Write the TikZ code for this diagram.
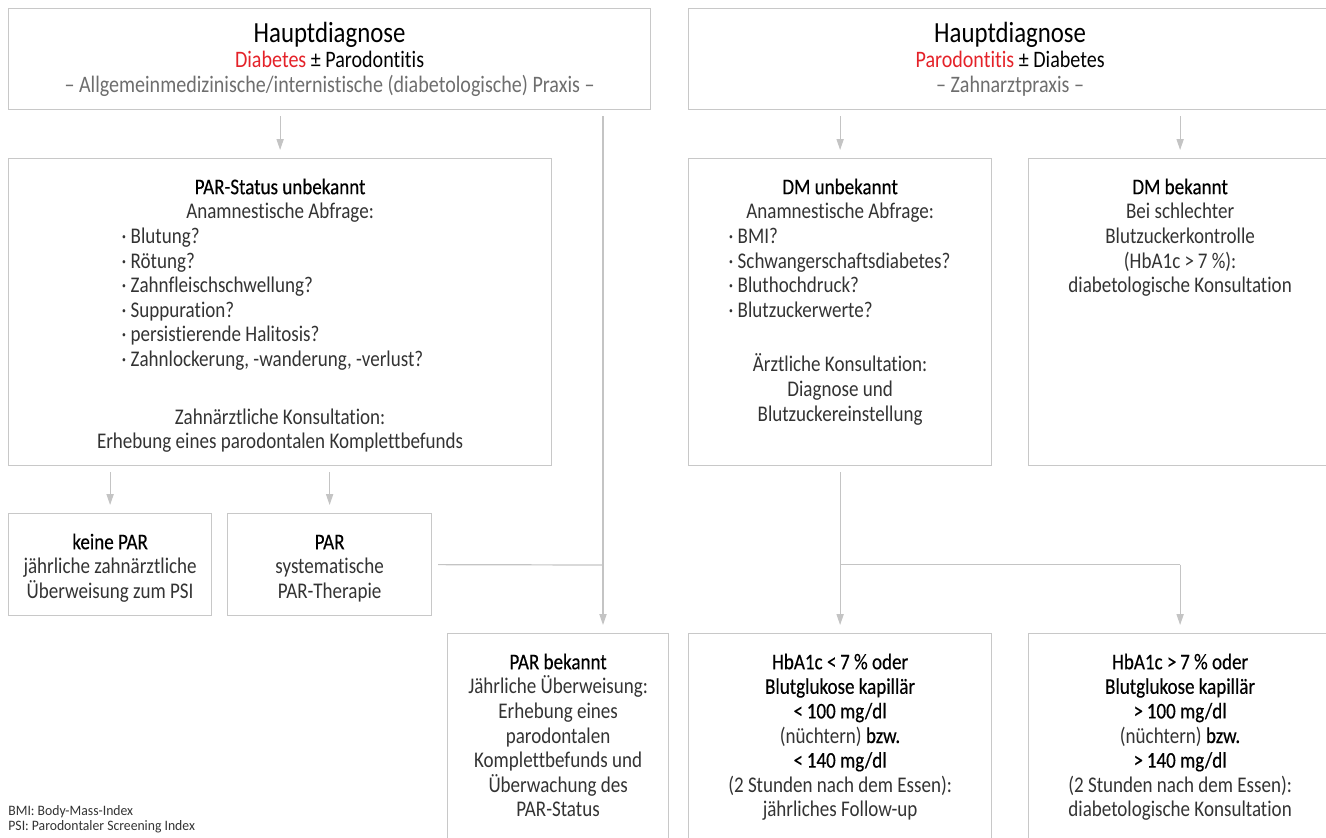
\documentclass[tikz,border=0pt]{standalone}
\usepackage{fontspec}
\setmainfont{Carlito}[FakeStretch=0.85,Ligatures=NoCommon,Contextuals=NoAlternate]
\newfontfamily\medfont{Carlito}[FakeStretch=0.85,FakeBold=0.35,Ligatures=NoCommon,Contextuals=NoAlternate]
\newfontfamily\fnfont{Carlito}[FakeStretch=0.95]
\usetikzlibrary{arrows.meta}
\usetikzlibrary{positioning}
\definecolor{boxgray}{HTML}{C8C8C8}
\definecolor{linegray}{HTML}{C4C4C4}
\definecolor{txtgray}{HTML}{333333}
\definecolor{subgray}{HTML}{6E6E6E}
\definecolor{diagred}{HTML}{E42229}
\newcommand{\bx}[3]{\parbox[t][#2][t]{#1}{\centering\fontsize{11.2}{12.3}\selectfont #3}}
\newcommand{\hl}[1]{{\medfont\color{black}#1}}
\newcommand{\lpunkt}[2]{\makebox[\linewidth][l]{\hspace*{#1}·\ #2}}
\newcommand{\fst}{\rule{0pt}{17.8pt}}
\newcommand{\titel}{\rule{0pt}{17pt}{\fontsize{14.6}{15}\selectfont\color{black}Hauptdiagnose}}
\newcommand{\unter}{\fontsize{11.8}{12.3}\selectfont}
\begin{document}
\begin{tikzpicture}[x=0.5pt,y=-0.5pt,
  box/.style={draw=boxgray,line width=0.6pt,inner sep=0pt,anchor=north west,text=txtgray},
  fn/.style={anchor=base west,inner sep=0pt,text=txtgray,font=\fnfont\fontsize{7.2}{8}\selectfont},
  conn/.style={draw=linegray,line width=0.6pt},
  arr/.style={conn,-{Triangle[length=5.5pt,width=3.6pt]},shorten <=3pt,shorten >=4pt}]
\useasboundingbox (0,0) rectangle (1326,837);
\clip (0,0) rectangle (1326,837);

\node[box] (diaA) at (8,8) {\bx{321pt}{50.5pt}{\titel\\
  {\unter{\color{diagred}Diabetes} {\color{black}± Parodontitis}}\\[0.5pt]
  {\unter\color{subgray}– Allgemeinmedizinische/internistische (diabetologische) Praxis –}}};
\node[box] (diaB) at (688,8) {\bx{321.5pt}{50.5pt}{\titel\\
  {\unter{\color{diagred}Parodontitis} {\color{black}± Diabetes}}\\[0.5pt]
  {\unter\color{subgray}– Zahnarztpraxis –}}};

\node[box] (parunb) at (8,158) {\bx{271.5pt}{153.5pt}{\fst\hl{PAR-Status unbekannt}\\
  Anamnestische Abfrage:\\
  \lpunkt{56.5pt}{Blutung?}\\
  \lpunkt{56.5pt}{Rötung?}\\
  \lpunkt{56.5pt}{Zahnfleischschwellung?}\\
  \lpunkt{56.5pt}{Suppuration?}\\
  \lpunkt{56.5pt}{persistierende Halitosis?}\\
  \lpunkt{56.5pt}{Zahnlockerung, -wanderung, -verlust?}\\[16.5pt]
  Zahnärztliche Konsultation:\\
  Erhebung eines parodontalen Komplettbefunds}};
\node[box] (dmunb) at (688,158) {\bx{151.5pt}{153.5pt}{\fst\hl{DM unbekannt}\\
  Anamnestische Abfrage:\\
  \lpunkt{20pt}{BMI?}\\
  \lpunkt{20pt}{Schwangerschaftsdiabetes?}\\
  \lpunkt{20pt}{Bluthochdruck?}\\
  \lpunkt{20pt}{Blutzuckerwerte?}\\[15pt]
  Ärztliche Konsultation:\\
  Diagnose und\\
  Blutzuckereinstellung}};
\node[box] (dmbek) at (1028,158) {\bx{151.5pt}{153.5pt}{\fst\hl{DM bekannt}\\
  Bei schlechter\\
  Blutzuckerkontrolle\\
  (HbA1c >\,7 \%):\\
  diabetologische Konsultation}};

\node[box] (keine) at (8,513) {\bx{101.5pt}{51pt}{\fst\hl{keine PAR}\\
  jährliche zahnärztliche\\
  Überweisung zum PSI}};
\node[box] (par) at (227,513) {\bx{102pt}{51pt}{\fst\hl{PAR}\\
  systematische\\
  PAR-Therapie}};

\node[box] (parbek) at (447,633) {\bx{110.5pt}{115pt}{\fst\hl{PAR bekannt}\\
  Jährliche Überweisung:\\
  Erhebung eines\\
  parodontalen\\
  Komplettbefunds und\\
  Überwachung des\\
  PAR-Status}};
\node[box] (hbalo) at (688,633) {\bx{151.5pt}{115pt}{\fst\hl{HbA1c <\,7 \% oder}\\
  \hl{Blutglukose kapillär}\\
  \hl{<\,100 mg/dl}\\
  (nüchtern) \hl{bzw.}\\
  \hl{<\,140 mg/dl}\\
  (2 Stunden nach dem Essen):\\
  jährliches Follow-up}};
\node[box] (hbahi) at (1028,633) {\bx{151.5pt}{115pt}{\fst\hl{HbA1c >\,7 \% oder}\\
  \hl{Blutglukose kapillär}\\
  \hl{>\,100 mg/dl}\\
  (nüchtern) \hl{bzw.}\\
  \hl{>\,140 mg/dl}\\
  (2 Stunden nach dem Essen):\\
  diabetologische Konsultation}};

\node[fn] (fnA) at (8,815) {BMI: Body-Mass-Index};
\node[fn] (fnB) at (8,830) {PSI: Parodontaler Screening Index};

\coordinate (parline) at (603,565);
\coordinate (split) at (dmunb.south |- par.east);

\draw[arr] (diaA.south -| parunb.north) -- (parunb.north);
\draw[arr] (parunb.south -| keine.north) -- (keine.north);
\draw[arr] (parunb.south -| par.north) -- (par.north);
\draw[arr] (diaA.south -| parline) -- (parbek.north -| parline);
\draw[conn,shorten <=3pt] (par.east) -- (parline);

\draw[arr] (diaB.south -| dmunb.north) -- (dmunb.north);
\draw[arr] (diaB.south -| dmbek.north) -- (dmbek.north);
\draw[conn,shorten <=3pt] (dmunb.south) -- (split);
\draw[conn] (split) -- (split -| hbahi.north);
\draw[arr,shorten <=0pt] (split) -- (hbalo.north);
\draw[arr,shorten <=0pt] (split -| hbahi.north) -- (hbahi.north);
\end{tikzpicture}
\end{document}
